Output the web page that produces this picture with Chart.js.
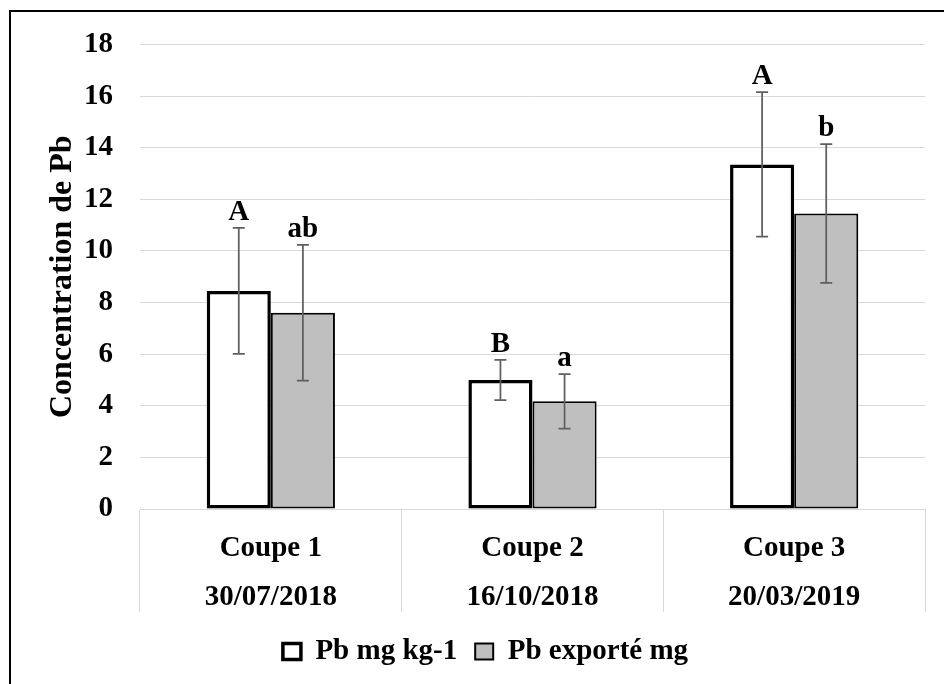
<!DOCTYPE html>
<html><head><meta charset="utf-8">
<script src="https://cdn.jsdelivr.net/npm/chart.js@4"></script>
<style>html,body{margin:0;padding:0;background:#fff}</style>
</head><body>
<canvas id="c" width="944" height="684"></canvas>
<script>
const categories = [["Coupe 1","30/07/2018"],["Coupe 2","16/10/2018"],["Coupe 3","20/03/2019"]];
const seriesNames = ["Pb mg kg-1","Pb exporté mg"];
const pbMgKg = [8.45, 5.0, 13.35];
const pbExporte = [7.6, 4.17, 11.45];
const errMgKg = [2.44, 0.78, 2.8];
const errExporte = [2.63, 1.06, 2.69];
const lettersMgKg = ["A","B","A"];
const lettersExporte = ["ab","a","b"];
const yMin = 0, yMax = 18, yStep = 2;
const yTitle = "Concentration de Pb";

const FONT = '"Liberation Serif", "Times New Roman", serif';

const errPlugin = {
  id: 'errbars',
  afterDatasetsDraw(chart) {
    const ctx = chart.ctx, y = chart.scales.y;
    chart.data.datasets.forEach((ds, di) => {
      const meta = chart.getDatasetMeta(di);
      meta.data.forEach((bar, i) => {
        const v = ds.data[i], e = ds.errors[i];
        const yt = y.getPixelForValue(v + e), yb = y.getPixelForValue(v - e);
        ctx.save();
        ctx.strokeStyle = '#5f5f5f';
        ctx.lineWidth = 1.75;
        ctx.beginPath();
        ctx.moveTo(bar.x, yt); ctx.lineTo(bar.x, yb);
        ctx.moveTo(bar.x - 6, yt); ctx.lineTo(bar.x + 6, yt);
        ctx.moveTo(bar.x - 6, yb); ctx.lineTo(bar.x + 6, yb);
        ctx.stroke();
        ctx.fillStyle = '#000';
        ctx.font = 'bold 29px ' + FONT;
        ctx.textAlign = 'center';
        ctx.textBaseline = 'alphabetic';
        ctx.fillText(ds.letters[i], bar.x, yt - 8);
        ctx.restore();
      });
    });
  },
  afterDraw(chart) {
    const ctx = chart.ctx;
    ctx.save();
    ctx.strokeStyle = '#000';
    ctx.lineWidth = 2;
    ctx.beginPath();
    ctx.moveTo(10, 700); ctx.lineTo(10, 11); ctx.lineTo(960, 11);
    ctx.stroke();
    ctx.restore();
  }
};

Chart.defaults.color = '#000';
Chart.defaults.font.family = FONT;
Chart.defaults.font.weight = 'bold';

new Chart(document.getElementById('c'), {
  type: 'bar',
  data: {
    labels: categories,
    datasets: [
      { label: seriesNames[0], data: pbMgKg, errors: errMgKg, letters: lettersMgKg,
        backgroundColor: '#ffffff', borderColor: '#000000', borderWidth: 3.5, borderSkipped: false },
      { label: seriesNames[1], data: pbExporte, errors: errExporte, letters: lettersExporte,
        backgroundColor: '#bfbfbf', borderColor: '#000000', borderWidth: 2, borderSkipped: false }
    ]
  },
  options: {
    responsive: false,
    animation: false,
    devicePixelRatio: 1,
    layout: { padding: { left: 46, right: 19, top: 39, bottom: 8 } },
    datasets: { bar: { barPercentage: 1, categoryPercentage: 0.49 } },
    plugins: {
      tooltip: { enabled: false },
      legend: {
        position: 'bottom',
        labels: {
          font: { size: 29, weight: 'bold', family: FONT },
          boxWidth: 18, boxHeight: 16, padding: 18, color: '#000'
        }
      }
    },
    scales: {
      x: {
        grid: { offset: true, drawOnChartArea: false, drawTicks: true, tickLength: 103, color: '#d9d9d9' },
        border: { color: '#d9d9d9', width: 1 },
        ticks: { font: { size: 29, weight: 'bold', family: FONT, lineHeight: 1.7 }, padding: -88, maxRotation: 0, autoSkip: false, color: '#000' },
        afterFit(s) { s.height = 110; }
      },
      y: {
        min: yMin, max: yMax,
        grid: { color: '#d9d9d9', drawTicks: false },
        border: { display: false },
        ticks: { stepSize: yStep, font: { size: 29, weight: 'bold', family: FONT }, padding: 27, color: '#000' },
        title: { display: true, text: yTitle, font: { size: 32, weight: 'bold', family: FONT, lineHeight: 1 }, padding: { top: 1, bottom: 0 }, color: '#000' },
        afterFit(s) { s.width = 94; }
      }
    }
  },
  plugins: [errPlugin]
});
</script>
</body></html>
